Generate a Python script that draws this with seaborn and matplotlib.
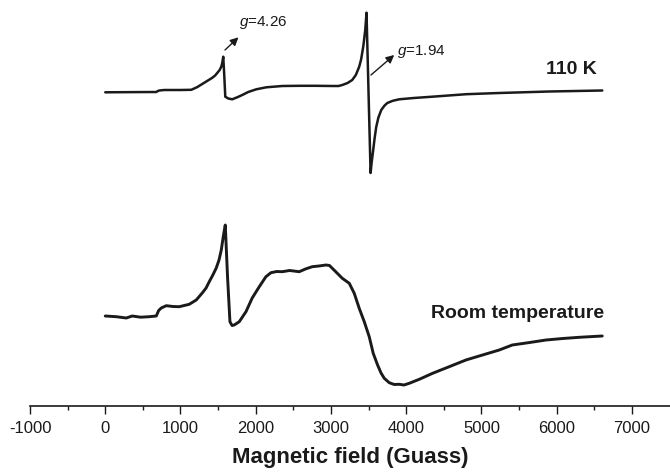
#!/usr/bin/env python3
# -*- coding: utf-8 -*-
"""EPR spectra at 110 K and at room temperature (stacked, no y axis)."""

import pandas as pd
import matplotlib
matplotlib.use("Agg")
import matplotlib.pyplot as plt
import seaborn as sns

# 110 K spectrum: magnetic field (G) and intensity (a.u., already offset)
field_110k = [0, 400, 678, 700, 718, 784, 1000, 1143, 1220, 1289, 1360, 1422,
              1460, 1488, 1520, 1542, 1556, 1568, 1582, 1595, 1635, 1688,
              1750, 1821, 1900, 2007, 2140, 2352, 2578, 2800, 3017, 3100,
              3150, 3220, 3282, 3330, 3375, 3400, 3430, 3455, 3472, 3498,
              3526, 3540, 3561, 3580, 3601, 3630, 3668, 3710, 3748, 3820,
              3907, 4100, 4346, 4797, 5236, 5900, 6605]
signal_110k = [313.7, 313.9, 314.0, 315.0, 315.5, 316.0, 316.0, 316.2, 318.8,
               322.0, 325.3, 328.2, 330.5, 333.0, 336.0, 339.3, 343.5, 349.3,
               330.0, 309.3, 307.5, 306.7, 308.6, 311.0, 314.0, 316.7, 318.7,
               320.0, 320.2, 320.2, 320.0, 320.0, 321.0, 323.0, 326.0, 331.0,
               339.3, 346.5, 360.0, 376.0, 393.3, 316.0, 233.0, 243.5, 256.0,
               268.0, 279.0, 288.5, 296.0, 300.3, 303.0, 305.2, 306.7, 308.0,
               309.3, 311.8, 313.0, 314.5, 315.5]

# room temperature spectrum
field_rt = [0, 146, 279, 359, 470, 585, 678, 710, 744, 811, 900, 983, 1116,
            1209, 1289, 1340, 1382, 1430, 1475, 1512, 1542, 1568, 1595, 1625,
            1657, 1685, 1714, 1781, 1870, 1953, 2047, 2135, 2202, 2280, 2352,
            2450, 2578, 2660, 2751, 2840, 2933, 2980, 3017, 3080, 3150, 3243,
            3309, 3375, 3442, 3508, 3561, 3619, 3665, 3708, 3774, 3840, 3907,
            3970, 4040, 4173, 4350, 4571, 4793, 5014, 5236, 5409, 5640, 5857,
            6080, 6299, 6605]
signal_rt = [90.0, 89.3, 88.0, 90.0, 88.8, 89.3, 90.0, 95.5, 98.0, 100.3,
             99.5, 99.3, 101.7, 106.0, 113.0, 118.0, 124.3, 131.0, 138.0,
             146.0, 156.0, 169.3, 181.0, 129.3, 84.3, 80.5, 81.0, 84.3, 94.3,
             108.0, 119.3, 129.3, 133.3, 134.5, 134.3, 135.5, 134.3, 137.0,
             139.3, 140.0, 141.0, 140.5, 137.7, 133.0, 127.7, 122.7, 112.7,
             97.7, 84.3, 69.3, 52.7, 41.0, 33.0, 27.7, 23.3, 21.5, 21.7, 21.0,
             22.7, 26.7, 32.7, 39.3, 46.0, 51.0, 56.0, 61.0, 63.5, 66.0, 67.5,
             68.7, 70.0]

x_ticks = [-1000, 0, 1000, 2000, 3000, 4000, 5000, 6000, 7000]
x_minor = [-500, 500, 1500, 2500, 3500, 4500, 5500, 6500]

sns.set_theme(style="ticks")
plt.rcParams["font.family"] = ["Liberation Sans", "DejaVu Sans"]
plt.rcParams["mathtext.fontset"] = "custom"
plt.rcParams["mathtext.rm"] = "Liberation Sans"
plt.rcParams["mathtext.it"] = "Liberation Sans:italic"
plt.rcParams["axes.unicode_minus"] = False

df_110k = pd.DataFrame({"field": field_110k, "signal": signal_110k})
df_rt = pd.DataFrame({"field": field_rt, "signal": signal_rt})

fig = plt.figure(figsize=(6.7, 4.72), dpi=100)
ax = fig.add_axes([30 / 670, 1 - 406 / 472, 640 / 670, 406 / 472])

sns.lineplot(data=df_110k, x="field", y="signal", ax=ax, color="#1a1a1a",
             linewidth=1.8, sort=False, estimator=None)
sns.lineplot(data=df_rt, x="field", y="signal", ax=ax, color="#1a1a1a",
             linewidth=2.1, sort=False, estimator=None)

ax.set_xlim(-1000, 7505)
ax.set_ylim(0, 406)
for side in ["left", "right", "top"]:
    ax.spines[side].set_visible(False)
ax.spines["bottom"].set_linewidth(1.2)
ax.spines["bottom"].set_color("#1a1a1a")
ax.set_yticks([])
ax.set_ylabel("")
ax.set_xticks(x_ticks)
ax.set_xticks(x_minor, minor=True)
ax.set_xticklabels([str(t) for t in x_ticks])
ax.tick_params(axis="x", which="major", direction="out", length=6, width=1,
               labelsize=12, pad=5, color="#1a1a1a", labelcolor="#1a1a1a")
ax.tick_params(axis="x", which="minor", direction="out", length=3, width=1,
               color="#1a1a1a")
ax.set_xlabel("Magnetic field (Guass)", fontsize=16, fontweight="bold",
              color="#1a1a1a", labelpad=8)

ax.text(6538, 336, "110 K", ha="right", va="center", fontsize=14,
        fontweight="bold", color="#1a1a1a")
ax.text(6631, 93, "Room temperature", ha="right", va="center", fontsize=14,
        fontweight="bold", color="#1a1a1a")

ax.annotate("", xy=(1770, 368.7), xytext=(1591, 356),
            arrowprops=dict(arrowstyle="-|>", color="#1a1a1a", lw=1,
                            mutation_scale=12, shrinkA=0, shrinkB=0))
ax.text(1781, 383.3, r"$g$=4.26", ha="left", va="center", fontsize=11,
        color="#1a1a1a")
ax.annotate("", xy=(3840, 351), xytext=(3531, 331),
            arrowprops=dict(arrowstyle="-|>", color="#1a1a1a", lw=1,
                            mutation_scale=12, shrinkA=0, shrinkB=0))
ax.text(3880, 354.3, r"$g$=1.94", ha="left", va="center", fontsize=11,
        color="#1a1a1a")

fig.savefig("out.png", dpi=100)
